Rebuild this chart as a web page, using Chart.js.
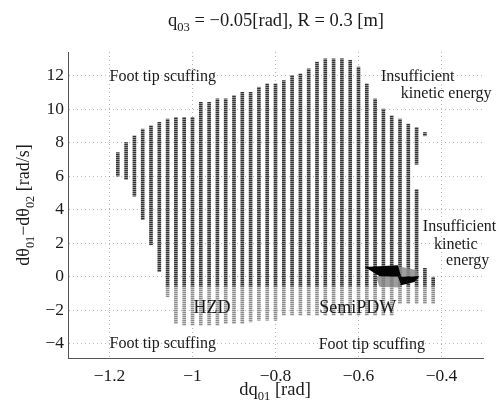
<!DOCTYPE html>
<html>
<head>
<meta charset="utf-8">
<script src="https://cdn.jsdelivr.net/npm/chart.js@4.4.1/dist/chart.umd.min.js"></script>
<style>
  body { margin: 0; background: #fff; }
  #wrap { width: 499px; height: 405px; }
</style>
</head>
<body>
<div id="wrap"><canvas id="myChart" width="499" height="405"></canvas></div>
<script>
// grid columns, x = dq01 [rad], extent of feasible points in d(theta01 - theta02)
const colX = [-1.18, -1.16, -1.14, -1.12, -1.10, -1.08, -1.06, -1.04, -1.02, -1.00,
              -0.98, -0.96, -0.94, -0.92, -0.90, -0.88, -0.86, -0.84, -0.82, -0.80,
              -0.78, -0.76, -0.74, -0.72, -0.70, -0.68, -0.66, -0.64, -0.62, -0.60,
              -0.58, -0.56, -0.54, -0.52, -0.50, -0.48, -0.46, -0.44, -0.42];
const colTop = [7.4, 8.0, 8.4, 8.8, 9.0, 9.2, 9.4, 9.5, 9.5, 9.5,
                10.4, 10.4, 10.6, 10.6, 10.8, 11.0, 11.0, 11.3, 11.5, 11.5,
                11.7, 12.0, 12.1, 12.4, 12.8, 13.0, 13.0, 13.0, 12.9, 12.5,
                11.5, 10.6, 10.0, 9.6, 9.4, 9.1, 5.2, 0.5, 0.0];
const colBottom = [6.0, 5.8, 4.8, 3.4, 1.9, 0.3, -1.2, -2.8, -2.9, -2.9,
                   -2.9, -2.9, -2.9, -2.8, -2.8, -2.8, -2.7, -2.6, -2.6, -2.6,
                   -2.3, -2.3, -2.3, -2.3, -2.3, -2.3, -2.3, -2.3, -2.3, -2.3,
                   -2.3, -2.3, -2.3, -2.3, -1.6, -1.6, -1.6, -1.6, -1.6];
// pieces split off the right-hand columns
const extraX = [-0.46, -0.44];
const extraTop = [8.9, 8.6];
const extraBottom = [6.7, 8.4];
const hzdSplit = -0.6;   // below this the points are the lighter HZD set

// SemiPDW region
const black1X = [-0.585, -0.505, -0.497, -0.549];
const black1Y = [0.58, 0.68, -0.01, 0.03];
const black2X = [-0.505, -0.453, -0.465, -0.497];
const black2Y = [-0.01, 0.03, -0.31, -0.51];
const grayX = [-0.505, -0.46, -0.455, -0.50, -0.50, -0.55, -0.557];
const grayY = [0.62, 0.4, 0.03, 0.0, -0.65, -0.6, -0.03];

const xTicks = [-1.2, -1, -0.8, -0.6, -0.4];
const yTicks = [-4, -2, 0, 2, 4, 6, 8, 10, 12];

const notes = [
  { text: 'Foot tip scuffing', x: -1.2, y: 11.93, size: 16 },
  { text: 'Insufficient', x: -0.546, y: 11.93, size: 16 },
  { text: 'kinetic energy', x: -0.498, y: 10.9, size: 16 },
  { text: 'Insufficient', x: -0.445, y: 3.0, size: 16 },
  { text: 'kinetic', x: -0.418, y: 1.93, size: 16 },
  { text: 'energy', x: -0.389, y: 0.92, size: 16 },
  { text: 'HZD', x: -0.953, y: -1.87, size: 18, center: true },
  { text: 'SemiPDW', x: -0.602, y: -1.87, size: 18, center: true },
  { text: 'Foot tip scuffing', x: -1.2, y: -4.02, size: 16 },
  { text: 'Foot tip scuffing', x: -0.696, y: -4.08, size: 16 }
];

const FONT = '"Liberation Serif", "Times New Roman", serif';
const ctx = document.getElementById('myChart');
const g2d = ctx.getContext('2d');

function stripes(dark, light) {
  const c = document.createElement('canvas');
  c.width = 1; c.height = 2;
  const g = c.getContext('2d');
  g.fillStyle = light; g.fillRect(0, 0, 1, 2);
  g.fillStyle = dark; g.fillRect(0, 0, 1, 1);
  return g2d.createPattern(c, 'repeat');
}

const darkBars = [];
const lightBars = [];
colX.forEach((x, i) => {
  if (colTop[i] > hzdSplit) darkBars.push({ x: x, y: [Math.max(colBottom[i], hzdSplit), colTop[i]] });
  if (colBottom[i] < hzdSplit) lightBars.push({ x: x, y: [colBottom[i], Math.min(colTop[i], hzdSplit)] });
});
extraX.forEach((x, i) => darkBars.push({ x: x, y: [extraBottom[i], extraTop[i]] }));

function drawRich(c, parts, x, y, size) {
  let w = 0;
  parts.forEach(([t, sub]) => { c.font = (sub ? size * 0.68 : size) + 'px ' + FONT; w += c.measureText(t).width; });
  let cx = x - w / 2;
  parts.forEach(([t, sub]) => {
    c.font = (sub ? size * 0.68 : size) + 'px ' + FONT;
    c.fillText(t, cx, sub ? y + size * 0.35 : y);
    cx += c.measureText(t).width;
  });
}

const extras = {
  id: 'extras',
  afterDatasetsDraw(chart) {
    const { ctx: c, scales: { x, y } } = chart;
    const poly = (xs, ys, color) => {
      c.beginPath();
      xs.forEach((v, i) => {
        const px = x.getPixelForValue(v), py = y.getPixelForValue(ys[i]);
        if (i) c.lineTo(px, py); else c.moveTo(px, py);
      });
      c.closePath();
      c.fillStyle = color;
      c.fill();
    };
    c.save();
    poly(grayX, grayY, 'rgba(140,140,140,0.85)');
    poly(black1X, black1Y, '#050505');
    poly(black2X, black2Y, '#050505');

    c.fillStyle = '#1a1a1a';
    c.textBaseline = 'middle';
    notes.forEach(n => {
      c.font = n.size + 'px ' + FONT;
      c.textAlign = n.center ? 'center' : 'left';
      c.fillText(n.text, x.getPixelForValue(n.x), y.getPixelForValue(n.y));
    });
    c.textAlign = 'left';
    drawRich(c, [['q'], ['03', true], [' = \u22120.05[rad], R = 0.3 [m]']], 276, 21, 18.5);
    drawRich(c, [['dq'], ['01', true], [' [rad]']], 275, 390, 18.5);
    c.translate(24, 205);
    c.rotate(-Math.PI / 2);
    drawRich(c, [['d\u03b8'], ['01', true], ['\u2212d\u03b8'], ['02', true], [' [rad/s]']], 0, 0, 18);
    c.restore();
  }
};

const minus = v => String(v).replace('-', '\u2212');

new Chart(ctx, {
  type: 'bar',
  data: {
    datasets: [
      { data: lightBars, backgroundColor: stripes('#8c8c8c', '#cbcbcb'), barThickness: 3, grouped: false, borderWidth: 0 },
      { data: darkBars, backgroundColor: stripes('#333333', '#8e8e8e'), barThickness: 3, grouped: false, borderWidth: 0 }
    ]
  },
  options: {
    responsive: false,
    animation: false,
    events: [],
    layout: { padding: { left: 0, right: 16, top: 52, bottom: 0 } },
    plugins: { legend: { display: false }, tooltip: { enabled: false } },
    scales: {
      x: {
        type: 'linear', min: -1.3, max: -0.3, offset: false,
        afterFit: s => { s.height = 47; },
        afterBuildTicks: s => { s.ticks = xTicks.map(v => ({ value: v })); },
        grid: { offset: false, drawTicks: false, color: 'rgba(0,0,0,0.28)' },
        border: { color: '#555', width: 1, dash: [1, 3] },
        ticks: { padding: 8, color: '#1a1a1a', font: { family: FONT, size: 17.5 }, callback: minus, maxRotation: 0 }
      },
      y: {
        type: 'linear', min: -4.85, max: 13.4,
        afterFit: s => { s.width = 68; },
        afterBuildTicks: s => { s.ticks = yTicks.map(v => ({ value: v })); },
        grid: { drawTicks: false, color: 'rgba(0,0,0,0.28)' },
        border: { color: '#555', width: 1, dash: [1, 3] },
        ticks: { padding: 4, color: '#1a1a1a', font: { family: FONT, size: 17.5 }, callback: minus }
      }
    }
  },
  plugins: [extras]
});
</script>
</body>
</html>
